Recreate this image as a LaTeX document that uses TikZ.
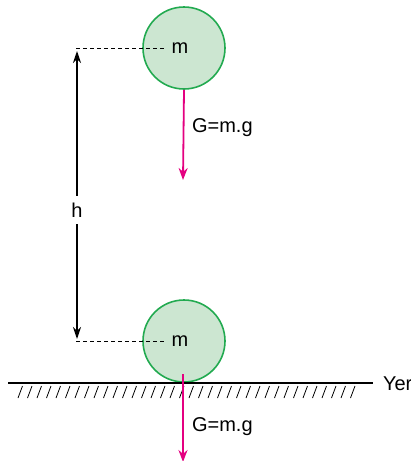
\documentclass[tikz,border=0pt]{standalone}
\usepackage{fontspec}
\setmainfont{Liberation Sans}
\usetikzlibrary{arrows.meta,positioning,calc}
\definecolor{ballgreen}{RGB}{204,230,209}
\definecolor{ballrim}{RGB}{34,170,80}
\definecolor{forcepink}{RGB}{228,0,128}

\begin{document}
\begin{tikzpicture}[x=0.5pt,y=-0.5pt,font=\fontsize{10}{12}\selectfont]
  \useasboundingbox (0,0) rectangle (411,461);
  \tikzset{ball/.style={circle,draw=ballrim,line width=0.8pt,fill=ballgreen,minimum size=41pt,inner sep=0pt},
           guide/.style={dash pattern=on 2pt off 1.5pt,line width=0.4pt},
           force/.style={forcepink,line width=0.9pt,-{Stealth[length=6pt,width=4.5pt]}},
           height/.style={line width=0.7pt,-{Stealth[length=6pt,width=4pt]}}}
  % balls
  \node[ball] (balltop) at (184,48) {};
  \node[ball] (ballbot) at (184,341) {};
  \node (mtop) at (180,48) {m};
  \node (mbot) at (180,341) {m};
  % height
  \coordinate (ltop) at (76,48);
  \coordinate (lbot) at (76,341);
  \draw[guide] (ltop) -- (mtop.west);
  \draw[guide] (lbot) -- (mbot.west);
  \node (h) at (77,210) {h};
  \draw[height] (h.north) -- (77,51);
  \draw[height] (h.south) -- (77,339);
  % ground
  \coordinate (gl) at (8,383);
  \coordinate (gr) at (373,383);
  \draw[line width=0.6pt] (gl) -- (gr);
  \foreach \x in {18,27.5,...,358}
    \draw[line width=0.4pt] (\x,398) -- (\x+4.5,386);
  \node[anchor=west] (yer) at (376,384) {Yer};
  % forces
  \coordinate (ftop) at (183,180);
  \coordinate (fbot) at (183,462);
  \draw[force] (balltop.south) -- (ftop);
  \draw[force] (183,374) -- (fbot);
  \node[anchor=west] (gtop) at (185,128) {G=m.g};
  \node[anchor=west] (gbot) at (185,427) {G=m.g};
\end{tikzpicture}
\end{document}
